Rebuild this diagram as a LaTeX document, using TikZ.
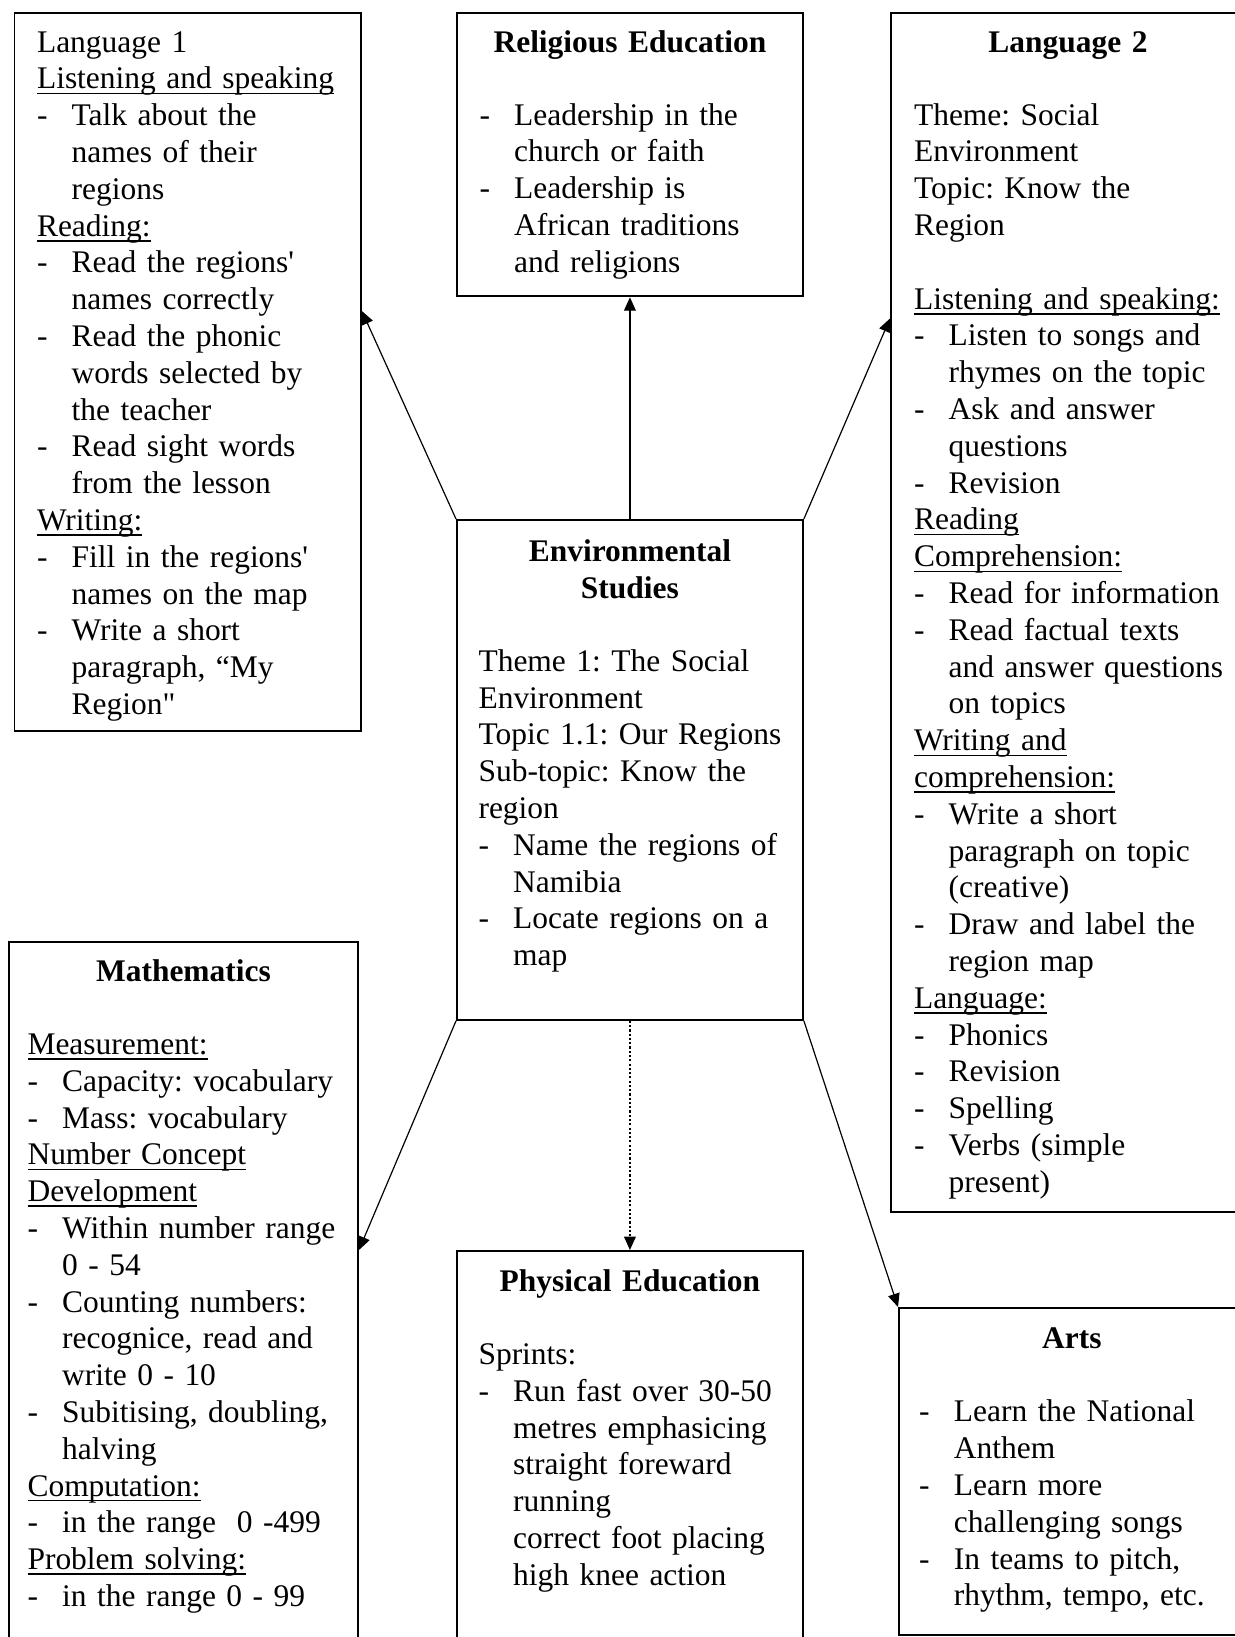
\documentclass[tikz,border=0pt]{standalone}
\usepackage{fontspec}
\setmainfont{Liberation Serif}
\usetikzlibrary{arrows.meta,calc}
\frenchspacing

\newsavebox{\ulinebox}
\newcommand{\uline}[1]{\leavevmode\sbox{\ulinebox}{#1}\rlap{\rule[-2pt]{\wd\ulinebox}{0.6pt}}\usebox{\ulinebox}}
\newcommand{\head}[1]{\uline{#1}\par}
\newcommand{\itm}[1]{{\let\\\newline\hangindent=13pt\hangafter=1\noindent\makebox[13pt][l]{-}#1\par}}
\newcommand{\emptyline}{\mbox{}\par}

\begin{document}
\begin{tikzpicture}[x=0.375pt,y=-0.375pt,
        subject/.style={rectangle,draw,line width=0.7pt,anchor=north west,inner sep=0pt},
        body/.style={anchor=base west,inner sep=0pt,text width=150pt,align=left,font=\fontsize{11.8}{13.8}\selectfont},
        title/.style={anchor=base,inner sep=0pt,text width=125pt,align=center,font=\fontsize{11.8}{13.8}\selectfont\bfseries},
        link/.style={draw,-{Triangle[length=5pt,width=4.4pt]},line width=0.45pt},
      ]
      \useasboundingbox (0,0) rectangle (1234,1637);
%
      \node[subject,minimum width=129.9pt,minimum height=269.1pt] at (13.6,12.5) (l1) {};
      \node[subject,minimum width=129.75pt,minimum height=106.1pt] at (456,12.5) (re) {};
      \node[subject,minimum width=132.75pt,minimum height=449.4pt] at (890,12.5) (l2) {};
      \node[subject,minimum width=129.75pt,minimum height=187.5pt] at (456,519) (es) {};
      \node[subject,minimum width=130.9pt,minimum height=266pt] at (8,941) (math) {};
      \node[subject,minimum width=129.75pt,minimum height=150pt] at (456,1250) (pe) {};
      \node[subject,minimum width=129.75pt,minimum height=122.6pt] at (898,1307) (arts) {};
%
      \node[body] at (36.5,52.2) (l1text) {Language 1\par
        \head{Listening and speaking}
        \itm{Talk about the\\names of their\\regions}
        \head{Reading:}
        \itm{Read the regions\textquotesingle\\names correctly}
        \itm{Read the phonic\\words selected by\\the teacher}
        \itm{Read sight words\\from the lesson}
        \head{Writing:}
        \itm{Fill in the regions\textquotesingle\\names on the map}
        \itm{Write a short\\paragraph, ``My\\Region\textquotedbl}};
%
      \node[title] at ($(re.north)+(0,39.7)$) (retitle) {Religious Education};
      \node[body] at (479,125.2) (retext) {%
        \itm{Leadership in the\\church or faith}
        \itm{Leadership is\\African traditions\\and religions}};
%
      \node[title] at ($(l2.north)+(0,39.7)$) (l2title) {Language 2};
      \node[body] at (913.5,125.2) (l2text) {Theme: Social\\Environment\\Topic: Know the\\Region\par
        \emptyline
        \head{Listening and speaking:}
        \itm{Listen to songs and\\rhymes on the topic}
        \itm{Ask and answer\\questions}
        \itm{Revision}
        \head{Reading}\head{Comprehension:}
        \itm{Read for information}
        \itm{Read factual texts\\and answer questions\\on topics}
        \head{Writing and}\head{comprehension:}
        \itm{Write a short\\paragraph on topic\\(creative)}
        \itm{Draw and label the\\region map}
        \head{Language:}
        \itm{Phonics}
        \itm{Revision}
        \itm{Spelling}
        \itm{Verbs (simple\\present)}};
%
      \node[title] at ($(es.north)+(0,42.6)$) (estitle) {Environmental\\Studies};
      \node[body] at (478,671.3) (estext) {Theme 1: The Social\\Environment\\Topic 1.1: Our Regions\\Sub-topic: Know the\\region\par
        \itm{Name the regions of\\Namibia}
        \itm{Locate regions on a\\map}};
%
      \node[title] at ($(math.north)+(0,40.3)$) (mathtitle) {Mathematics};
      \node[body] at (27,1054.4) (mathtext) {%
        \head{Measurement:}
        \itm{Capacity: vocabulary}
        \itm{Mass: vocabulary}
        \head{Number Concept}\head{Development}
        \itm{Within number range\\0 - 54}
        \itm{Counting numbers:\\recognice, read and\\write 0 - 10}
        \itm{Subitising, doubling,\\halving}
        \head{Computation:}
        \itm{in the range\ \ 0 -499}
        \head{Problem solving:}
        \itm{in the range 0 - 99}};
%
      \node[title] at ($(pe.north)+(0,41.4)$) (petitle) {Physical Education};
      \node[body] at (478,1364.5) (petext) {Sprints:\par
        \itm{Run fast over 30-50\\metres emphasicing\\straight foreward\\running\\correct foot placing\\high knee action}};
%
      \node[title] at ($(arts.north)+(0,41.8)$) (artstitle) {Arts};
      \node[body] at (918.7,1421.9) (artstext) {%
        \itm{Learn the National\\Anthem}
        \itm{Learn more\\challenging songs}
        \itm{In teams to pitch,\\rhythm, tempo, etc.}};
%
      \path[link] (es.north west) -- ($(l1.north east)+(0,298.5)$);
      \path[link] (es.north) -- (re.south);
      \path[link] (es.north east) -- ($(l2.north west)+(0,306)$);
      \path[link] (es.south west) -- ($(math.north east)+(0,309)$);
      \path[link,dash pattern=on 0.8pt off 0.8pt] (es.south) -- (pe.north);
      \path[link] (es.south east) -- (arts.north west);
    \end{tikzpicture}
\end{document}
